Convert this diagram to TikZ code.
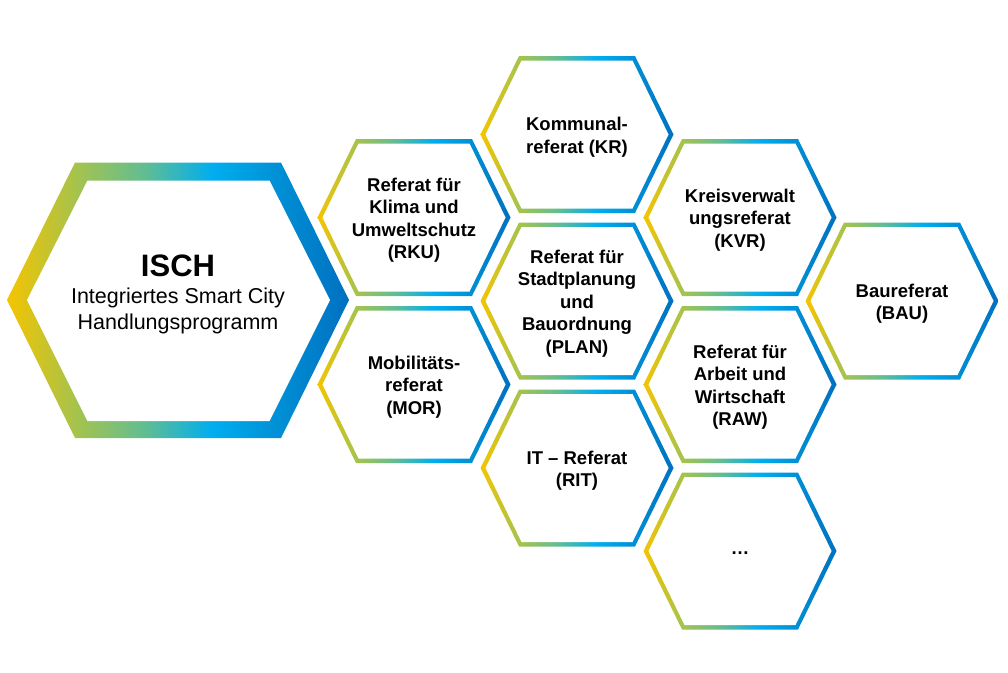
\documentclass[tikz,border=0pt]{standalone}
\usepackage{fontspec}
\setmainfont{Liberation Sans}
\definecolor{gY}{HTML}{F5C400}
\definecolor{gG}{HTML}{A6C34C}
\definecolor{gT}{HTML}{62BD92}
\definecolor{gC}{HTML}{00AEEF}
\definecolor{gM}{HTML}{0088D0}
\definecolor{gB}{HTML}{0070C0}
\pgfdeclarehorizontalshading{hexgrad}{100bp}{color(0bp)=(gY); color(25bp)=(gY); color(35bp)=(gG); color(45bp)=(gT); color(55bp)=(gC); color(67bp)=(gM); color(75bp)=(gB); color(100bp)=(gB)}
\tikzset{
  cell/.style={align=center, inner sep=0pt, font=\bfseries\fontsize{18.5}{22.5}\selectfont},
  bigtext/.style={align=center, inner sep=0pt, font=\fontsize{21.5}{26.5}\selectfont},
  ring/.style={shading=hexgrad},
  hole/.style={fill=white}
}
\newcommand\hexcell[4]{%
  \shade[ring] (#2-96.5,#3) -- (#2-58,#3-78.5) -- (#2+58,#3-78.5) -- (#2+96.5,#3) -- (#2+58,#3+78.5) -- (#2-58,#3+78.5) -- cycle;
  \path[hole] (#2-91.5,#3) -- (#2-55.5,#3-74) -- (#2+55.5,#3-74) -- (#2+91.5,#3) -- (#2+55.5,#3+74) -- (#2-55.5,#3+74) -- cycle;
  \node[cell] (#1) at (#2,#3+2.5) {#4};
}
\begin{document}
\begin{tikzpicture}[x=1pt,y=-1pt]
\useasboundingbox (0,0) rectangle (1008,672);
% big hexagon
\shade[ring] (7,300) -- (75,162.5) -- (281,162.5) -- (349,300) -- (281,438) -- (75,438) -- cycle;
\path[hole] (27,300) -- (87.5,180.5) -- (269.5,180.5) -- (330,300) -- (269.5,421) -- (87.5,421) -- cycle;
\node[bigtext] (isch) at (178,294.5) {{\fontsize{31}{26.5}\selectfont\bfseries ISCH}\\Integriertes Smart City\\Handlungsprogramm};
% small hexagons
\hexcell{rku}{414}{217.5}{Referat für\\Klima und\\Umweltschutz\\(RKU)}
\hexcell{mor}{414}{384.5}{Mobilitäts-\\referat\\(MOR)}
\hexcell{kr}{577}{134.5}{Kommunal-\\referat (KR)}
\hexcell{plan}{577}{301}{Referat für\\Stadtplanung\\und\\Bauordnung\\(PLAN)}
\hexcell{rit}{577}{468}{IT – Referat\\(RIT)}
\hexcell{kvr}{740}{217.5}{Kreisverwalt\\ungsreferat\\(KVR)}
\hexcell{raw}{740}{384.5}{Referat für\\Arbeit und\\Wirtschaft\\(RAW)}
\hexcell{more}{740}{551}{…}
\hexcell{bau}{902}{301}{Baureferat\\(BAU)}
\end{tikzpicture}
\end{document}
